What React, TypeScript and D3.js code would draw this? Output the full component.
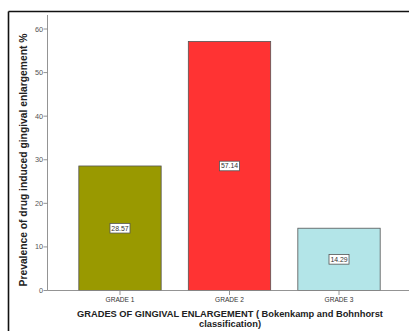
import React from "react";
import * as d3 from "d3";

const categories = ["GRADE 1", "GRADE 2", "GRADE 3"];
const values = [28.57, 57.14, 14.29];
const valueLabels = ["28.57", "57.14", "14.29"];
const barColors = ["#999900", "#ff3333", "#b3e5e8"];
const yTicks = [0, 10, 20, 30, 40, 50, 60];

const W = 409;
const H = 331;

export default function App() {
  const x0 = 47.5;
  const baseY = 290.5;
  const y = d3.scaleLinear().domain([0, 60]).range([baseY, 29]);
  const x = d3
    .scaleBand<string>()
    .domain(categories)
    .range([x0, 411.5])
    .paddingInner(0.248)
    .paddingOuter(0.286);

  const font = "Arial, 'Liberation Sans', sans-serif";

  return (
    <svg
      width={W}
      height={H}
      style={{ position: "absolute", left: 0, top: 0, background: "#fff" }}
      fontFamily={font}
    >
      {/* outer frame */}
      <line x1={8.5} y1={11.5} x2={W} y2={11.5} stroke="#111" strokeWidth={1.6} />
      <line x1={8.5} y1={11.5} x2={8.5} y2={H} stroke="#111" strokeWidth={1.6} />

      {/* bars */}
      {categories.map((c, i) => {
        const bx = x(c)!;
        const top = y(values[i]);
        return (
          <rect
            key={c}
            x={bx}
            y={top}
            width={x.bandwidth()}
            height={baseY - top}
            fill={barColors[i]}
            stroke="#555"
            strokeWidth={0.8}
          />
        );
      })}

      {/* value labels */}
      {categories.map((c, i) => {
        const cx = x(c)! + x.bandwidth() / 2;
        const cy = (y(values[i]) + baseY) / 2;
        return (
          <g key={c + "-lbl"}>
            <rect
              x={cx - 10}
              y={cy - 4.8}
              width={20}
              height={9.6}
              fill="#fff"
              stroke="#555"
              strokeWidth={0.8}
            />
            <text
              x={cx}
              y={cy + 2.4}
              textAnchor="middle"
              fontSize={6.9}
              fill="#333"
            >
              {valueLabels[i]}
            </text>
          </g>
        );
      })}

      {/* y axis */}
      <line x1={x0} y1={15} x2={x0} y2={baseY} stroke="#888" strokeWidth={0.9} />
      {yTicks.map((t) => (
        <g key={t}>
          <line x1={x0 - 4} y1={y(t)} x2={x0} y2={y(t)} stroke="#888" strokeWidth={0.9} />
          <text
            x={x0 - 4.5}
            y={y(t) + 2.5}
            textAnchor="end"
            fontSize={7.3}
            fill="#555"
          >
            {t}
          </text>
        </g>
      ))}

      {/* x axis */}
      <line x1={x0} y1={baseY} x2={W} y2={baseY} stroke="#888" strokeWidth={0.9} />
      {categories.map((c) => {
        const cx = x(c)! + x.bandwidth() / 2;
        return (
          <g key={c + "-tick"}>
            <line x1={cx} y1={baseY} x2={cx} y2={baseY + 4.5} stroke="#888" strokeWidth={0.9} />
            <text x={cx} y={301.5} textAnchor="middle" fontSize={6.6} fill="#333">
              {c}
            </text>
          </g>
        );
      })}

      {/* axis titles */}
      <text
        transform={`translate(27,160) rotate(-90)`}
        textAnchor="middle"
        fontSize={10.3}
        fontWeight="bold"
        fill="#222"
      >
        Prevalence of drug induced gingival enlargement %
      </text>
      <text x={230} y={316.5} textAnchor="middle" fontSize={9.3} fontWeight="bold" fill="#222">
        GRADES OF GINGIVAL ENLARGEMENT ( Bokenkamp and Bohnhorst
      </text>
      <text x={230} y={327} textAnchor="middle" fontSize={9.3} fontWeight="bold" fill="#222">
        classification)
      </text>
    </svg>
  );
}
